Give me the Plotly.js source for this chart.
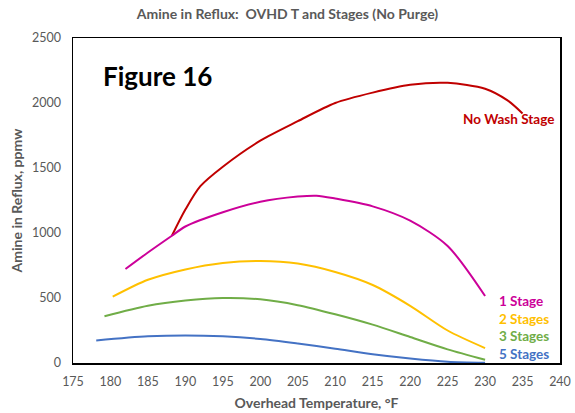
<!DOCTYPE html>
<html><head><meta charset="utf-8">
<script src="https://cdn.plot.ly/plotly-3.0.1.min.js"></script>
<style>html,body{margin:0;padding:0;background:#fff}#chart{width:575px;height:413px}</style>
</head><body><div id="chart"></div>
<script>
const noWashT = [188.2, 190, 192, 195, 200, 205, 210, 215, 220, 225, 230, 233, 235];
const noWashV = [979, 1180, 1360, 1510, 1710, 1860, 2000, 2080, 2140, 2155, 2110, 2020, 1920];
const stage1T = [182, 185, 188.2, 190, 195, 200, 205, 207.5, 210, 215, 220, 225, 230];
const stage1V = [723, 850, 979, 1050, 1160, 1240, 1280, 1287, 1265, 1205, 1095, 900, 515];
const stage2T = [180.3, 185, 190, 195, 200, 205, 210, 215, 220, 225, 230];
const stage2V = [510, 640, 720, 770, 785, 765, 700, 600, 440, 250, 115];
const stage3T = [179.2, 185, 190, 195, 200, 205, 210, 215, 220, 225, 230];
const stage3V = [360, 440, 480, 500, 490, 445, 375, 295, 200, 105, 25];
const stage5T = [178.1, 185, 190, 195, 200, 205, 210, 215, 220, 225, 230];
const stage5V = [174, 205, 212, 205, 185, 150, 110, 68, 35, 10, 2];
const seriesNames = ["No Wash Stage", "1 Stage", "2 Stages", "3 Stages", "5 Stages"];
const xTicks = [175, 180, 185, 190, 195, 200, 205, 210, 215, 220, 225, 230, 235, 240];
const yTicks = [0, 500, 1000, 1500, 2000, 2500];

const colors = ["#C00000", "#CC0099", "#FFC000", "#70AD47", "#4472C4"];
const xs = [noWashT, stage1T, stage2T, stage3T, stage5T];
const ys = [noWashV, stage1V, stage2V, stage3V, stage5V];
const traces = xs.map((x, i) => ({
  x: x, y: ys[i], type: 'scatter', mode: 'lines', name: seriesNames[i],
  line: {color: colors[i], width: 2, shape: 'spline', smoothing: 0.8},
  hoverinfo: 'skip'
}));

const FONT = 'Lato, "Open Sans", sans-serif';
const labelPos = [
  {x: 239.5, y: 1877, xanchor: 'right'},
  {x: 231.6, y: 474, xanchor: 'left'},
  {x: 231.6, y: 338, xanchor: 'left'},
  {x: 231.6, y: 205, xanchor: 'left'},
  {x: 231.6, y: 69, xanchor: 'left'}
];
const annotations = seriesNames.map((n, i) => ({
  x: labelPos[i].x, y: labelPos[i].y, xref: 'x', yref: 'y', text: n, showarrow: false,
  xanchor: labelPos[i].xanchor, yanchor: 'middle',
  font: {family: FONT, size: 13.5, color: colors[i], weight: 'bold'}
}));
annotations.push({
  x: 178.7, y: 2205, xref: 'x', yref: 'y', text: 'Figure 16', showarrow: false,
  xanchor: 'left', yanchor: 'middle',
  font: {family: FONT, size: 26, color: '#000', weight: 'bold'}
});

const layout = {
  width: 575, height: 413,
  margin: {l: 73, r: 15, t: 38, b: 50},
  paper_bgcolor: '#fff', plot_bgcolor: '#fff',
  showlegend: false,
  font: {family: FONT, color: '#595959', size: 12},
  title: {text: '<b>Amine in Reflux:  OVHD T and Stages (No Purge)</b>', x: 0.5, xanchor: 'center', y: 0.965, yanchor: 'middle',
          font: {family: FONT, size: 14, color: '#595959', weight: 'bold'}},
  xaxis: {range: [175, 240], tickvals: xTicks, ticktext: xTicks.map(String), showgrid: false, zeroline: false,
          showline: true, mirror: true, linecolor: '#000', linewidth: 1.5, ticks: '', ticklabelstandoff: 6,
          tickfont: {family: FONT, size: 12.5, color: '#595959'},
          title: {text: 'Overhead Temperature, °F', standoff: 10, font: {family: FONT, size: 14, color: '#595959', weight: 'bold'}}},
  yaxis: {range: [0, 2500], tickvals: yTicks, ticktext: yTicks.map(String), showgrid: false, zeroline: false,
          showline: true, mirror: true, linecolor: '#000', linewidth: 1.5, ticks: '', ticklabelstandoff: 8,
          tickfont: {family: FONT, size: 12.5, color: '#595959'},
          title: {text: 'Amine in Reflux, ppmw', standoff: 6, font: {family: FONT, size: 14, color: '#595959', weight: 'bold'}}},
  annotations: annotations
};
Plotly.newPlot('chart', traces, layout, {staticPlot: true, displayModeBar: false});
</script></body></html>
